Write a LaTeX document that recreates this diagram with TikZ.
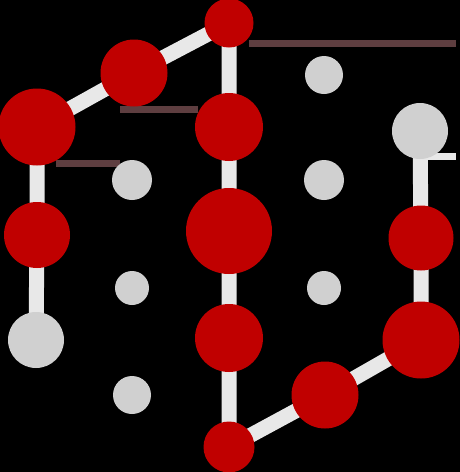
\documentclass[tikz,border=0pt]{standalone}
\definecolor{nred}{RGB}{192,0,0}
\definecolor{ngray}{RGB}{208,208,208}
\definecolor{lgray}{RGB}{232,232,232}
\definecolor{brn}{RGB}{94,62,64}
\begin{document}
\begin{tikzpicture}[x=1pt,y=-1pt,
  rnode/.style={circle,fill=nred,inner sep=0pt,minimum size=#1},
  gnode/.style={circle,fill=ngray,inner sep=0pt,minimum size=#1},
  link/.style={draw=lgray,line width=15pt},
  thin link/.style={draw=brn,line width=7pt}]
\fill[black] (0,0) rectangle (460,472);
\useasboundingbox (0,0) rectangle (460,472);
% coordinates
\coordinate (a) at (229,23);
\coordinate (b) at (134,73);
\coordinate (c) at (37,127);
\coordinate (d) at (229,127);
\coordinate (e) at (37,235);
\coordinate (f) at (229,231);
\coordinate (g) at (36,340);
\coordinate (h) at (229,338);
\coordinate (i) at (229,447);
\coordinate (j) at (325,395);
\coordinate (k) at (421,340);
\coordinate (l) at (421,238);
\coordinate (m) at (420,131);
\coordinate (t1) at (456,43);
\coordinate (t2) at (456,156);
% connectors
\draw[link] (c) -- (b) -- (a) -- (d) -- (f) -- (h) -- (i) -- (j) -- (k) -- (l) -- (m);
\draw[link] (c) -- (e) -- (g);
\draw[draw=lgray,line width=7pt] (m |- t2) -- (t2);
\draw[thin link] (a |- t1) ++(20,0) -- (t1);
\draw[thin link] (120,109) -- (198,109);
\draw[thin link] (56,163) -- (120,163);
% nodes
\node[rnode=49pt] (A) at (a) {};
\node[rnode=67pt] (B) at (b) {};
\node[rnode=77pt] (C) at (c) {};
\node[rnode=68pt] (D) at (d) {};
\node[rnode=66pt] (E) at (e) {};
\node[rnode=86pt] (F) at (f) {};
\node[gnode=56pt] (G) at (g) {};
\node[rnode=68pt] (H) at (h) {};
\node[rnode=51pt] (I) at (i) {};
\node[rnode=67pt] (J) at (j) {};
\node[rnode=77pt] (K) at (k) {};
\node[rnode=65pt] (L) at (l) {};
\node[gnode=56pt] (M) at (m) {};
\node[gnode=38pt] (s1) at (324,75) {};
\node[gnode=40pt] (s2) at (132,180) {};
\node[gnode=40pt] (s3) at (324,180) {};
\node[gnode=34pt] (s4) at (132,288) {};
\node[gnode=34pt] (s5) at (324,288) {};
\node[gnode=38pt] (s6) at (132,395) {};
\end{tikzpicture}
\end{document}
